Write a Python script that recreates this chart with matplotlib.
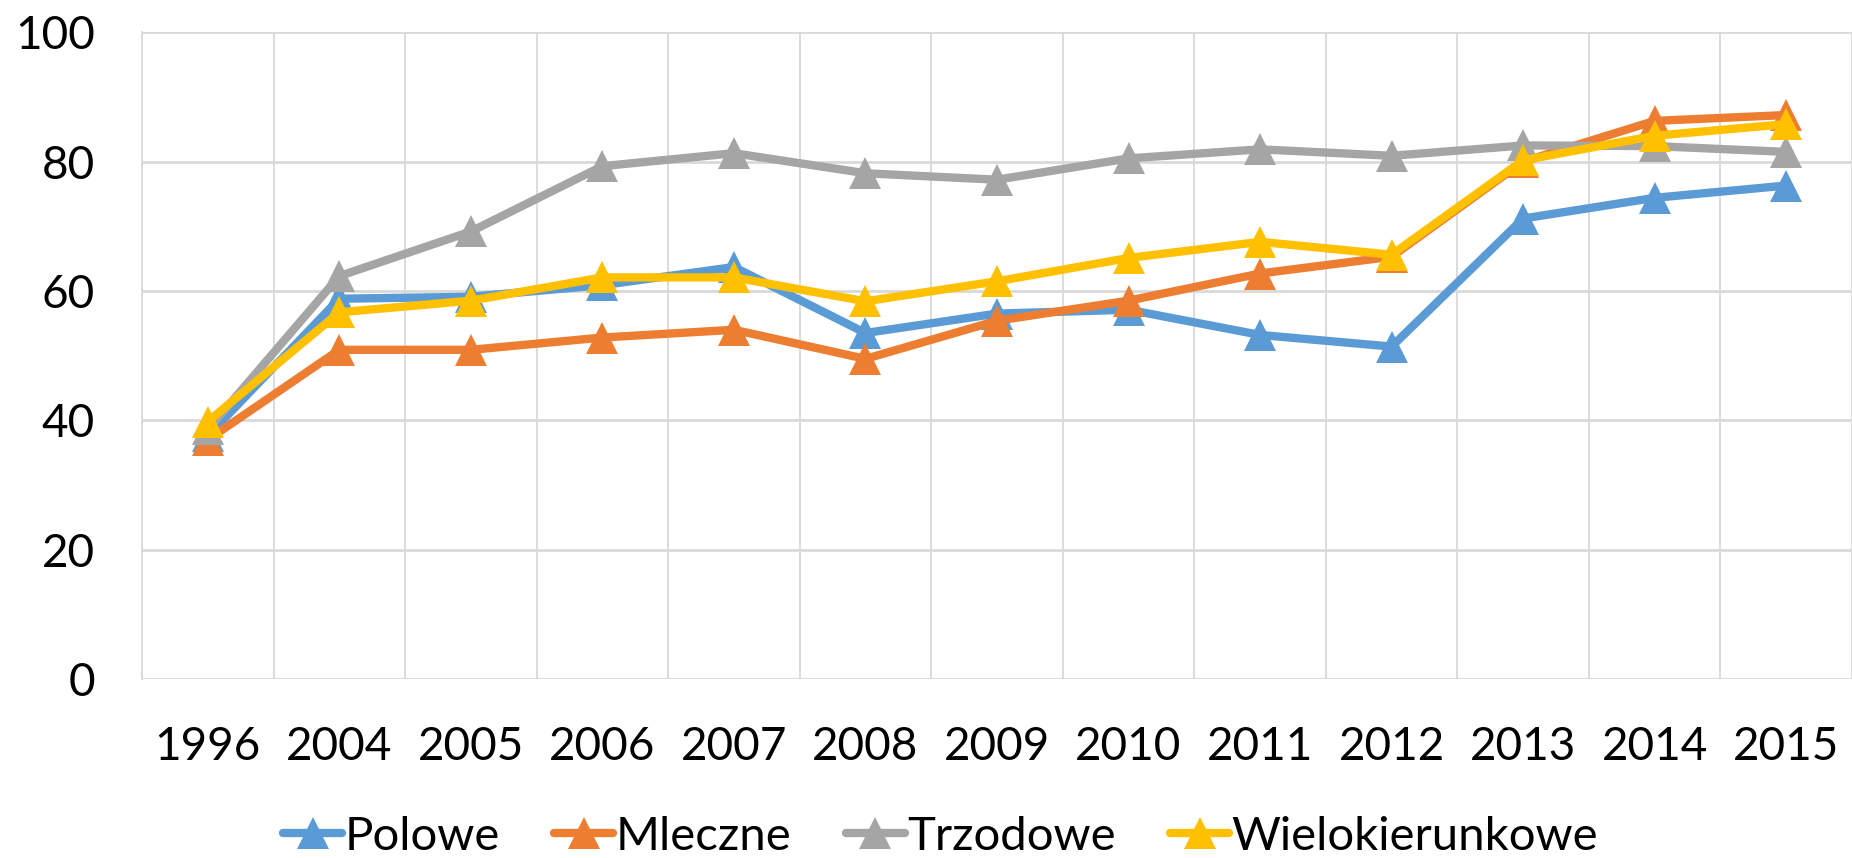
import matplotlib

matplotlib.use("Agg")
import matplotlib.pyplot as plt
import numpy as np

years = ["1996", "2004", "2005", "2006", "2007", "2008", "2009",
         "2010", "2011", "2012", "2013", "2014", "2015"]

polowe = [37.6, 58.8, 59.1, 60.9, 63.7, 53.5, 56.5, 57.1, 53.2, 51.4, 71.2, 74.4, 76.3]
mleczne = [37.0, 50.9, 50.9, 52.8, 54.0, 49.5, 55.4, 58.5, 62.7, 65.3, 80.0, 86.3, 87.2]
trzodowe = [38.6, 62.3, 69.2, 79.3, 81.3, 78.2, 77.2, 80.5, 81.9, 80.9, 82.5, 82.4, 81.5]
wielokierunkowe = [39.8, 56.7, 58.5, 62.1, 62.1, 58.4, 61.5, 65.1, 67.6, 65.6, 80.2, 84.0, 85.8]

series = [
    ("Polowe", polowe, "#5B9BD5"),
    ("Mleczne", mleczne, "#ED7D31"),
    ("Trzodowe", trzodowe, "#A5A5A5"),
    ("Wielokierunkowe", wielokierunkowe, "#FFC000"),
]

plt.rcParams["font.family"] = ["Lato", "DejaVu Sans"]

fig = plt.figure(figsize=(18.52, 8.58), dpi=100)
ax = fig.add_axes([0.0767, 0.2086, 0.9233, 0.7538])

x = np.arange(len(years))
for name, vals, color in series:
    ax.plot(x, vals, color=color, lw=6, marker="^", ms=23,
            markeredgewidth=0, label=name, solid_joinstyle="round",
            solid_capstyle="round")

ax.set_xlim(-0.5, len(years) - 0.5)
ax.set_ylim(0, 100)
ax.set_yticks(range(0, 101, 20))
ax.set_xticks(x)
ax.set_xticklabels(years)
ax.set_xticks(np.arange(-0.5, len(years), 1.0), minor=True)

ax.grid(axis="y", which="major", color="#D9D9D9", lw=2)
ax.grid(axis="x", which="minor", color="#D9D9D9", lw=1.3)
ax.set_axisbelow(True)
for side in ["top", "right", "bottom"]:
    ax.spines[side].set_visible(False)
ax.spines["left"].set_color("#D9D9D9")
ax.spines["left"].set_linewidth(1.3)

ax.tick_params(axis="both", which="both", length=0, labelsize=33)
ax.tick_params(axis="y", pad=34)
ax.tick_params(axis="x", pad=34)

fig.legend(loc="center", bbox_to_anchor=(0.508, 0.025), ncol=4, frameon=False,
           fontsize=34, handlelength=1.25, handletextpad=0.05, columnspacing=1.15)

fig.savefig("out.png", dpi=100)
plt.close(fig)
